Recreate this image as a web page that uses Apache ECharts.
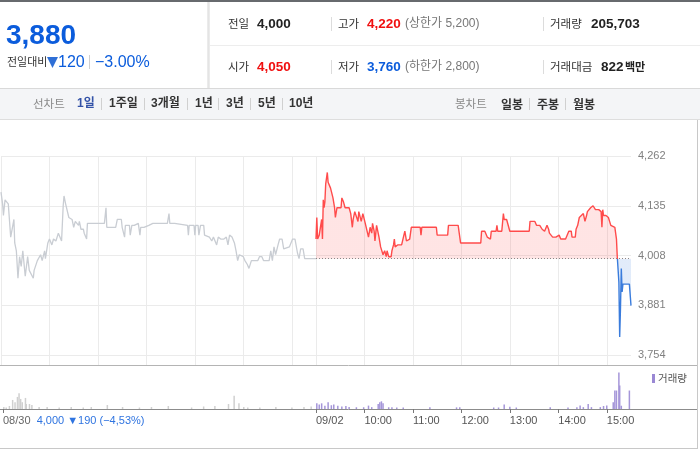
<!DOCTYPE html>
<html><head><meta charset="utf-8">
<script src="https://cdn.jsdelivr.net/npm/echarts@6/dist/echarts.min.js"></script>
<style>html,body{margin:0;padding:0;background:#fff}#c{width:700px;height:450px}</style>
</head><body><div id="c"></div>
<script>
// ---- data (minutes after 09:00, price in KRW) ----
const dayLabels = ['08/30', '09/02'];
const hourLabels = ['09/02', '10:00', '11:00', '12:00', '13:00', '14:00', '15:00'];
const hourMinutes = [0, 60, 120, 180, 240, 300, 360];
const priceTicks = [3754, 3881, 4008, 4135, 4262];
const prevClose = 4000;

const day1Times = [0,2,3,5,7,9,12,13,16,17,19,21,23,25,27,30,33,35,40,41,45,49,51,54,55,58,60,63,65,68,71,73,75,77,78,80,82,84,88,90,92,96,97,99,102,103,106,107,128,130,131,142,144,149,150,152,153,154,159,160,162,165,167,170,172,173,177,178,183,188,206,208,209,215,216,231,232,233,239,240,241,244,245,247,251,252,254,258,261,263,265,267,269,272,276,279,281,283,286,289,291,293,295,297,300,302,305,307,310,318,320,323,325,328,330,332,334,336,338,340,343,345,348,350,357,361,364,367,369,371,374,376,390];
const day1Prices = [4170,4140,4110,4150,4155,4140,4055,4060,4100,4040,4020,3950,4005,3980,4020,3955,4005,3970,3950,3970,3995,4010,3995,4020,4000,4040,4050,4035,4050,4045,4065,4070,4045,4135,4160,4140,4140,4105,4100,4080,4095,4085,4095,4075,4075,4065,4050,4090,4090,4130,4080,4080,4100,4100,4080,4080,4055,4085,4085,4060,4085,4085,4090,4090,4060,4080,4080,4085,4085,4090,4090,4115,4090,4090,4085,4085,4060,4085,4085,4060,4085,4085,4060,4085,4085,4060,4060,4055,4045,4055,4050,4035,4055,4050,4050,4055,4035,4060,4055,4040,4020,3995,4010,4005,4005,3995,3985,3975,3995,3995,4005,4005,3995,3995,4000,3995,4020,3995,4030,4010,4035,4050,4050,4025,4030,4050,4050,4015,4000,4025,4025,4000,4000];

const day2Times = [0,1,2,4,6,7,8,9,10,11,12,14,15,16,18,20,21,23,24,26,31,32,34,36,41,43,45,46,48,50,52,53,55,56,58,59,61,63,65,67,69,70,72,73,75,77,78,80,82,83,85,87,88,90,93,94,96,97,98,101,106,108,110,112,114,116,118,120,121,129,130,131,149,150,163,164,168,170,172,176,179,204,205,209,211,212,213,216,217,223,224,225,230,232,233,235,236,238,240,257,259,260,264,265,271,273,277,279,280,282,283,285,286,288,289,291,293,297,298,301,303,309,311,313,316,317,321,322,324,326,328,331,332,333,335,336,338,340,341,343,345,346,350,353,354,355,356,359,362,364,365,367,370,372,373,375,376,377,378,379,380,385,388,390];
const day2Prices = [4050,4105,4050,4060,4055,4100,4050,4150,4130,4145,4190,4220,4195,4200,4180,4175,4155,4130,4105,4130,4130,4155,4145,4130,4130,4115,4080,4100,4120,4120,4095,4120,4120,4095,4115,4110,4090,4085,4055,4080,4065,4090,4070,4045,4085,4090,4055,4030,4025,4010,4020,4005,4020,4005,4005,4020,4035,4050,4030,4035,4035,4040,4070,4045,4040,4050,4080,4075,4080,4080,4060,4080,4080,4060,4060,4085,4085,4080,4085,4085,4040,4040,4070,4070,4065,4055,4050,4050,4070,4070,4085,4070,4070,4115,4100,4095,4100,4095,4070,4070,4075,4070,4070,4095,4095,4085,4085,4080,4075,4080,4070,4075,4085,4075,4065,4065,4055,4055,4060,4060,4050,4050,4055,4070,4070,4055,4055,4075,4085,4105,4110,4115,4110,4095,4110,4120,4125,4130,4125,4135,4135,4125,4125,4120,4080,4125,4110,4110,4105,4105,4085,4085,4080,4050,4005,3940,3800,3875,3975,3915,3935,3935,3935,3880];

const day1VolTimes = [1,4,8,12,15,18,20,22,24,28,29,33,36,45,55,70,85,100,110,130,149,170,185,206,235,250,264,281,288,294,300,305,320,340,360,375,384];
const day1Vols = [1600,1200,2400,7200,5400,9600,12500,8000,5400,8800,4000,4000,3200,1600,1600,1200,1600,1200,1600,3200,1600,1200,1600,2400,1200,2000,2400,4000,10500,4500,1600,1200,1200,1600,1200,1600,2000];
const day2VolTimes = [1,4,7,11,15,19,22,27,32,37,41,50,59,65,69,77,79,81,83,90,94,100,108,141,174,178,220,226,233,240,248,290,312,323,327,331,337,341,352,356,360,368,370,372,375,376,378,388];
const day2Vols = [4500,3500,4500,2600,5300,3000,3500,2500,2000,2400,1600,1400,1400,2700,1500,4000,5300,6100,4500,1400,1400,1200,1200,1300,1300,1300,1200,1200,3500,1800,1200,1300,1200,1300,2700,1500,4000,1500,1500,2400,2700,5300,14700,14700,29000,18700,2600,14700];

// ---- helpers ----
const pair = (ts, vs) => ts.map((t, i) => [t, vs[i]]);
const NUM = "'Liberation Sans','Noto Sans CJK KR',sans-serif";
const KR = "'Noto Sans CJK KR','Liberation Sans',sans-serif";
const BLUE = '#0b5cdc', RED = '#f01010';
function T(x, y, text, font, fill) {
  return {type: 'text', silent: true, x: x, y: y,
    style: {text: text, font: font, fill: fill, align: 'left', verticalAlign: 'middle', textAlign: 'left', textVerticalAlign: 'middle'}};
}
function L(x1, y1, x2, y2, color, w) {
  return {type: 'line', silent: true, shape: {x1: x1, y1: y1, x2: x2, y2: y2}, style: {stroke: color, lineWidth: w || 1}};
}
function R(x, y, w, h, fill) {
  return {type: 'rect', silent: true, shape: {x: x, y: y, width: w, height: h}, style: {fill: fill}};
}
const fmt = v => String(v).replace(/\B(?=(\d{3})+(?!\d))/g, ',');

const graphics = [
  R(0, 88, 700, 31, '#f4f5f7'),
  R(0, 0, 700, 2, '#676a6e'),
  L(208.5, 2, 208.5, 88, '#e4e4e4', 2.5),
  L(210, 45.5, 700, 45.5, '#ededed', 1),
  L(0, 88.5, 700, 88.5, '#d9d9d9', 1),
  L(0, 119.5, 700, 119.5, '#dedede', 1),
  // current price block
  T(6, 36, '3,880', 'bold 28px ' + NUM, BLUE),
  T(7, 62, '전일대비', '11px ' + KR, '#333'),
  {type: 'polygon', silent: true, shape: {points: [[47, 57], [58, 57], [52.5, 68]]}, style: {fill: '#2f6fd6'}},
  T(58, 62.5, '120', '16px ' + NUM, BLUE),
  L(89.5, 55, 89.5, 69, '#cfcfcf', 1),
  T(95, 62.5, '−3.00%', '16px ' + NUM, BLUE),
  // info rows
  T(228, 24, '전일', '11.5px ' + KR, '#333'),
  T(257, 24, '4,000', 'bold 13.5px ' + NUM, '#222'),
  L(331.5, 17, 331.5, 31, '#dcdcdc', 1),
  T(338, 24, '고가', '11.5px ' + KR, '#333'),
  T(367, 24, '4,220', 'bold 13.5px ' + NUM, RED),
  T(405, 24, '(상한가 5,200)', '12px ' + NUM, '#777'),
  L(543.5, 17, 543.5, 31, '#dcdcdc', 1),
  T(550, 24, '거래량', '11.5px ' + KR, '#333'),
  T(591, 24, '205,703', 'bold 13.5px ' + NUM, '#222'),
  T(228, 67, '시가', '11.5px ' + KR, '#333'),
  T(257, 67, '4,050', 'bold 13.5px ' + NUM, RED),
  L(331.5, 60, 331.5, 74, '#dcdcdc', 1),
  T(338, 67, '저가', '11.5px ' + KR, '#333'),
  T(367, 67, '3,760', 'bold 13.5px ' + NUM, BLUE),
  T(405, 67, '(하한가 2,800)', '12px ' + NUM, '#777'),
  L(543.5, 60, 543.5, 74, '#dcdcdc', 1),
  T(550, 67, '거래대금', '11.5px ' + KR, '#333'),
  T(601, 67, '822', 'bold 13.5px ' + NUM, '#222'),
  T(625, 67, '백만', 'bold 11px ' + KR, '#222'),
  // toolbar
  T(33, 104, '선차트', '11.5px ' + KR, '#8a8a8a'),
  T(77, 104, '1일', 'bold 12px ' + NUM, '#3453a8'),
  L(101.5, 98, 101.5, 110, '#d0d0d0', 1),
  T(109, 104, '1주일', 'bold 12px ' + NUM, '#333'),
  L(144.5, 98, 144.5, 110, '#d0d0d0', 1),
  T(151, 104, '3개월', 'bold 12px ' + NUM, '#333'),
  L(187.5, 98, 187.5, 110, '#d0d0d0', 1),
  T(195, 104, '1년', 'bold 12px ' + NUM, '#333'),
  L(218.5, 98, 218.5, 110, '#d0d0d0', 1),
  T(226, 104, '3년', 'bold 12px ' + NUM, '#333'),
  L(250.5, 98, 250.5, 110, '#d0d0d0', 1),
  T(258, 104, '5년', 'bold 12px ' + NUM, '#333'),
  L(282.5, 98, 282.5, 110, '#d0d0d0', 1),
  T(289, 104, '10년', 'bold 12px ' + NUM, '#333'),
  T(455, 104, '봉차트', '11.5px ' + KR, '#8a8a8a'),
  T(501, 104, '일봉', 'bold 12px ' + KR, '#333'),
  L(529.5, 98, 529.5, 110, '#d0d0d0', 1),
  T(537, 104, '주봉', 'bold 12px ' + KR, '#333'),
  L(565.5, 98, 565.5, 110, '#d0d0d0', 1),
  T(573, 104, '월봉', 'bold 12px ' + KR, '#333'),
  // chart frame
  L(0, 365.5, 697, 365.5, '#b4b4b4', 1),
  L(0, 409.5, 697, 409.5, '#8c8c8c', 1),
  L(697.5, 120, 697.5, 449, '#c8c8c8', 1),
  L(0, 448.5, 698, 448.5, '#c8c8c8', 1),
  // volume legend
  R(652, 374, 3, 9, '#9a88d4'),
  T(658, 378.5, '거래량', '10.5px ' + KR, '#555')
];

const gridLine = {color: '#ebebeb', width: 1};
const hidden = (g, extra) => Object.assign({type: 'value', gridIndex: g, show: false}, extra || {});

const option = {
  animation: false,
  textStyle: {fontFamily: NUM},
  grid: [
    {left: 1, top: 156, width: 315, height: 209},
    {left: 316, top: 156, width: 315, height: 209},
    {left: 1, top: 156, width: 315, height: 199},
    {left: 316, top: 156, width: 315, height: 199},
    {left: 1, top: 365, width: 315, height: 44},
    {left: 316, top: 365, width: 315, height: 44}
  ],
  xAxis: [
    {type: 'value', gridIndex: 0, min: 0, max: 390, interval: 60, axisLine: {show: false}, axisTick: {show: false}, axisLabel: {show: false}, splitLine: {show: true, lineStyle: gridLine}},
    {type: 'value', gridIndex: 1, min: 0, max: 390, interval: 60, axisLine: {show: false}, axisTick: {show: false}, axisLabel: {show: false}, splitLine: {show: true, showMaxLine: false, lineStyle: gridLine}},
    hidden(2, {min: 0, max: 390}),
    hidden(3, {min: 0, max: 390}),
    {type: 'value', gridIndex: 4, min: 0, max: 390, interval: 390, axisLine: {show: false},
      axisTick: {show: true, length: 4, lineStyle: {color: '#777'}},
      axisLabel: {show: true, align: 'left', margin: 6, fontSize: 11, color: '#666', fontFamily: NUM,
        showMaxLabel: false,
        formatter: v => v === 0 ? dayLabels[0] + '  {b|4,000 ▼190 (−4,53%)}' : '',
        rich: {b: {color: '#2f74e0', fontSize: 11, fontFamily: NUM}}},
      splitLine: {show: false}},
    {type: 'value', gridIndex: 5, min: 0, max: 390, interval: 60, axisLine: {show: false},
      axisTick: {show: true, length: 4, lineStyle: {color: '#777'}, customValues: hourMinutes},
      axisLabel: {show: true, align: 'left', margin: 6, fontSize: 11, color: '#555', fontFamily: NUM,
        customValues: hourMinutes,
        formatter: v => { const i = hourMinutes.indexOf(v); return i >= 0 ? hourLabels[i] : ''; }},
      splitLine: {show: false}}
  ],
  yAxis: [
    hidden(0, {min: 0, max: 1}),
    hidden(1, {min: 0, max: 1}),
    {type: 'value', gridIndex: 2, min: priceTicks[0], max: priceTicks[priceTicks.length - 1], interval: 127,
      axisLine: {show: false}, axisTick: {show: false}, axisLabel: {show: false}, splitLine: {show: true, lineStyle: gridLine}},
    {type: 'value', gridIndex: 3, position: 'right', min: priceTicks[0], max: priceTicks[priceTicks.length - 1], interval: 127,
      axisLine: {show: false}, axisTick: {show: false},
      axisLabel: {show: true, margin: 7, fontSize: 11, color: '#808080', fontFamily: NUM, formatter: v => fmt(v)},
      splitLine: {show: true, lineStyle: gridLine}},
    hidden(4, {min: 0, max: 35000}),
    hidden(5, {min: 0, max: 35000})
  ],
  visualMap: {type: 'piecewise', show: false, seriesIndex: 1, dimension: 1,
    pieces: [{gte: 3000, lt: prevClose, color: '#3a7cdc'}, {gte: prevClose, lte: 5000, color: '#ff4b4b'}],
    outOfRange: {color: '#ff4b4b'}},
  series: [
    {type: 'line', xAxisIndex: 2, yAxisIndex: 2, data: pair(day1Times, day1Prices), showSymbol: false, silent: true,
      lineStyle: {color: '#c9cdd3', width: 1.3}},
    {type: 'line', xAxisIndex: 3, yAxisIndex: 3, data: pair(day2Times, day2Prices), showSymbol: false, silent: true,
      lineStyle: {width: 1.4}, areaStyle: {origin: prevClose, opacity: 0.15},
      markLine: {silent: true, symbol: 'none', label: {show: false},
        lineStyle: {color: '#888', type: [1, 2], width: 1}, data: [{yAxis: prevClose}]}},
    {type: 'bar', xAxisIndex: 4, yAxisIndex: 4, data: pair(day1VolTimes, day1Vols), barWidth: 1.5, silent: true,
      itemStyle: {color: '#d0d0d0'}},
    {type: 'bar', xAxisIndex: 5, yAxisIndex: 5, data: pair(day2VolTimes, day2Vols), barWidth: 1.5, silent: true,
      itemStyle: {color: '#a596d9'}}
  ],
  graphic: graphics
};
const chart = echarts.init(document.getElementById('c'));
chart.setOption(option);
</script></body></html>
